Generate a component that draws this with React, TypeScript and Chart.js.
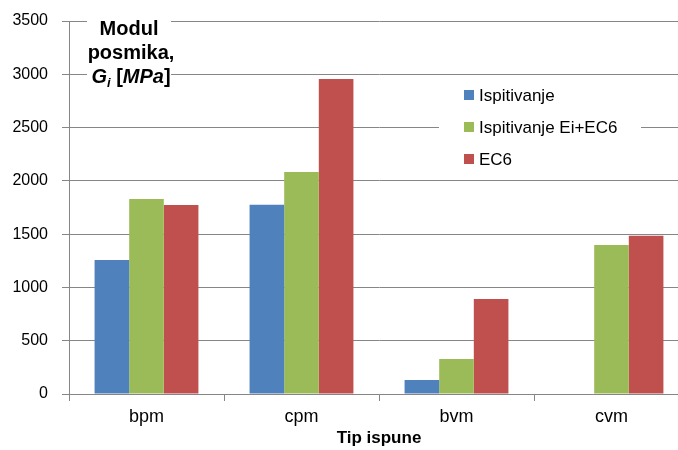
import React, { useEffect, useRef } from "react";
import { Chart, registerables } from "chart.js";

Chart.register(...registerables);

const categories = ["bpm", "cpm", "bvm", "cvm"];
const ispitivanje: (number | null)[] = [1257, 1775, 131, null];
const ispitivanjeEiEC6 = [1830, 2083, 328, 1398];
const ec6 = [1773, 2956, 891, 1485];
const seriesNames = ["Ispitivanje", "Ispitivanje Ei+EC6", "EC6"];
const seriesColors = ["#4F81BD", "#9BBB59", "#C0504D"];
const yTicks = { min: 0, max: 3500, step: 500 };
const xTitle = "Tip ispune";
const yTitleLines = ["Modul", "posmika,"];

const FONT = "'Liberation Sans', Arial, sans-serif";

const overlayPlugin = {
  id: "overlay",
  afterDraw(chart: any) {
    const ctx = chart.ctx as CanvasRenderingContext2D;
    ctx.save();
    // Title box
    ctx.fillStyle = "#ffffff";
    ctx.fillRect(87, 15, 84, 78);
    ctx.fillStyle = "#000000";
    ctx.textAlign = "center";
    ctx.textBaseline = "alphabetic";
    ctx.font = `bold 20px ${FONT}`;
    const cx = 129;
    ctx.fillText(yTitleLines[0], cx, 35);
    ctx.fillText(yTitleLines[1], cx + 2, 59);
    // G_i [MPa]
    const parts: { t: string; f: string; dy: number }[] = [
      { t: "G", f: `italic bold 20px ${FONT}`, dy: 0 },
      { t: "i", f: `italic bold 13px ${FONT}`, dy: 4 },
      { t: " [", f: `bold 20px ${FONT}`, dy: 0 },
      { t: "MPa", f: `italic bold 20px ${FONT}`, dy: 0 },
      { t: "]", f: `bold 20px ${FONT}`, dy: 0 },
    ];
    let total = 0;
    for (const p of parts) {
      ctx.font = p.f;
      total += ctx.measureText(p.t).width;
    }
    let x = cx + 2 - total / 2;
    ctx.textAlign = "left";
    for (const p of parts) {
      ctx.font = p.f;
      ctx.fillText(p.t, x, 83 + p.dy);
      x += ctx.measureText(p.t).width;
    }

    // Legend
    ctx.fillStyle = "#ffffff";
    ctx.fillRect(439, 78, 202, 99);
    ctx.font = `17px ${FONT}`;
    ctx.textBaseline = "middle";
    chart.data.datasets.forEach((ds: any, i: number) => {
      const y = 95 + i * 32;
      ctx.fillStyle = ds.backgroundColor;
      ctx.fillRect(464, y - 5, 10, 10);
      ctx.fillStyle = "#000000";
      ctx.fillText(ds.label, 479, y + 1);
    });
    ctx.restore();
  },
};

export default function App() {
  const ref = useRef<HTMLCanvasElement>(null);
  useEffect(() => {
    if (!ref.current) return;
    const chart = new Chart(ref.current, {
      type: "bar",
      data: {
        labels: categories,
        datasets: [ispitivanje, ispitivanjeEiEC6, ec6].map((d, i) => ({
          label: seriesNames[i],
          data: d,
          backgroundColor: seriesColors[i],
          borderWidth: 0,
          categoryPercentage: 0.67,
          barPercentage: 1.0,
        })),
      },
      options: {
        responsive: false,
        animation: false,
        devicePixelRatio: 1,
        layout: { padding: { top: 21, left: 0, right: 0, bottom: 0 } },
        plugins: { legend: { display: false }, tooltip: { enabled: false } },
        scales: {
          x: {
            afterFit: (s: any) => {
              s.height = 56;
              s.paddingLeft = 0;
              s.paddingRight = 0;
            },
            grid: { display: true, drawOnChartArea: false, drawTicks: true, tickLength: 7, color: "#868686", offset: true },
            border: { display: true, color: "#868686" },
            ticks: { color: "#000", font: { family: FONT, size: 18 }, padding: 5 },
            title: {
              display: true,
              text: xTitle,
              color: "#000",
              font: { family: FONT, size: 17, weight: "bold", lineHeight: 1 },
              padding: { top: 0, bottom: 3 },
            },
          },
          y: {
            min: yTicks.min,
            max: yTicks.max,
            afterFit: (s: any) => {
              s.width = 69;
              s.paddingTop = 0;
              s.paddingBottom = 0;
            },
            grid: { color: "#868686", tickLength: 7, drawTicks: true },
            border: { display: true, color: "#868686" },
            ticks: {
              stepSize: yTicks.step,
              color: "#000",
              font: { family: FONT, size: 16 },
              padding: 14,
              callback: (v: any) => String(v),
            },
          },
        },
      },
      plugins: [overlayPlugin],
    });
    return () => chart.destroy();
  }, []);
  return (
    <div style={{ position: "fixed", left: 0, top: 0, width: 678, height: 450, overflow: "hidden", background: "#fff" }}>
      <canvas ref={ref} width={689} height={450} style={{ width: 689, height: 450, display: "block" }} />
    </div>
  );
}
